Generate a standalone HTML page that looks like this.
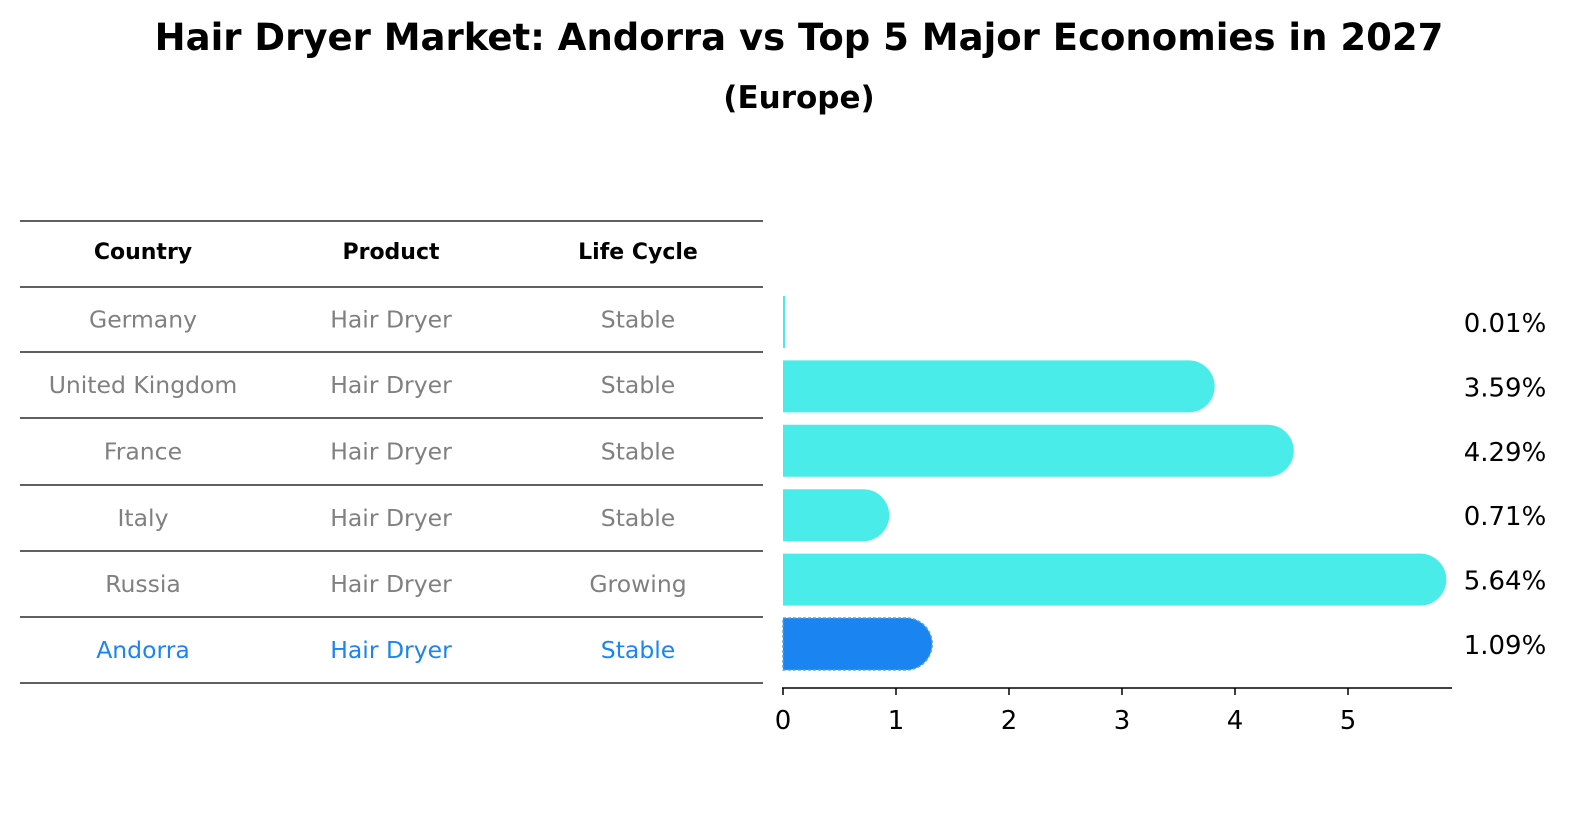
<!DOCTYPE html>
<html><head><meta charset="utf-8"><style>
html,body{margin:0;padding:0;background:#fff;overflow:hidden;width:1586px;height:823px;font-family:"Liberation Sans","DejaVu Sans",sans-serif;}
svg{display:block}
</style></head><body>
<svg id="chart" width="1586" height="823" xmlns="http://www.w3.org/2000/svg">
<text x="799" y="50" text-anchor="middle" font-family="DejaVu Sans, sans-serif" font-weight="bold" font-size="37">Hair Dryer Market: Andorra vs Top 5 Major Economies in 2027</text>
<text x="799" y="108" text-anchor="middle" font-family="DejaVu Sans, sans-serif" font-weight="bold" font-size="31">(Europe)</text>
<g id="table"></g>
<g id="bars"></g>
</svg>
<script>
const countries=["Germany","United Kingdom","France","Italy","Russia","Andorra"];
const products=["Hair Dryer","Hair Dryer","Hair Dryer","Hair Dryer","Hair Dryer","Hair Dryer"];
const lifecycles=["Stable","Stable","Stable","Stable","Growing","Stable"];
const values=[0.01,3.59,4.29,0.71,5.64,1.09];
const valueLabels=["0.01%","3.59%","4.29%","0.71%","5.64%","1.09%"];
const ticks=[0,1,2,3,4,5];
const NS="http://www.w3.org/2000/svg";
function mk(t,a,p){const e=document.createElementNS(NS,t);for(const k in a)e.setAttribute(k,a[k]);p.appendChild(e);return e;}
const F="DejaVu Sans, sans-serif";
const tbl=document.getElementById('table');
const lineYs=[221,287,352,418,485,551,617,683];
lineYs.forEach(y=>{const l=mk('line',{x1:20,x2:763,y1:y,y2:y,stroke:'#000','stroke-width':1.2},tbl);

});
const colX=[143,391,638];
["Country","Product","Life Cycle"].forEach((h,i)=>{const t=mk('text',{x:colX[i],y:259,'text-anchor':'middle','font-family':F,'font-weight':'bold','font-size':22},tbl);t.textContent=h;

});
const rowY=i=>(lineYs[i+1]+lineYs[i+2])/2;
countries.forEach((c,i)=>{const col=i===countries.length-1?'#1a85f0':'#808080';
[c,products[i],lifecycles[i]].forEach((v,j)=>{const t=mk('text',{x:colX[j],y:rowY(i)+8,'text-anchor':'middle','font-family':F,'font-size':23.5,fill:col},tbl);t.textContent=v;

});});
const g=document.getElementById('bars');
const x0=783,pxPer=113;
const xs=v=>x0+v*pxPer;
const barCenter=i=>322+i*64.4;
const bh=52,r=26;
values.forEach((v,i)=>{const cy=barCenter(i),last=i===values.length-1,col=last?'#1a85f0':'#4aece9';
const x1=xs(v);let d;
if(v*pxPer<3){d=`M${x0},${cy-bh/2}h2v${bh}h-2z`;}
else d=`M${x0},${cy-bh/2}H${x1}A${r},${r} 0 0 1 ${x1},${cy+bh/2}H${x0}Z`;
const attrs={d:d,fill:col};
if(last){attrs.stroke='#5aa0e0';attrs['stroke-width']=1.5;attrs['stroke-dasharray']='3,2';}
const p=mk('path',attrs,g);


const t=mk('text',{x:1505,y:cy+10,'text-anchor':'middle','font-family':F,'font-size':26},g);t.textContent=valueLabels[i];

});
const ax=mk('line',{x1:782,x2:1452,y1:688,y2:688,stroke:'#000','stroke-width':1.5},g);


ticks.forEach(v=>{const l=mk('line',{x1:xs(v),x2:xs(v),y1:688,y2:695,stroke:'#000','stroke-width':1.5},g);


const t=mk('text',{x:xs(v),y:729,'text-anchor':'middle','font-family':F,'font-size':26},g);t.textContent=v;

});
</script>
</body></html>
